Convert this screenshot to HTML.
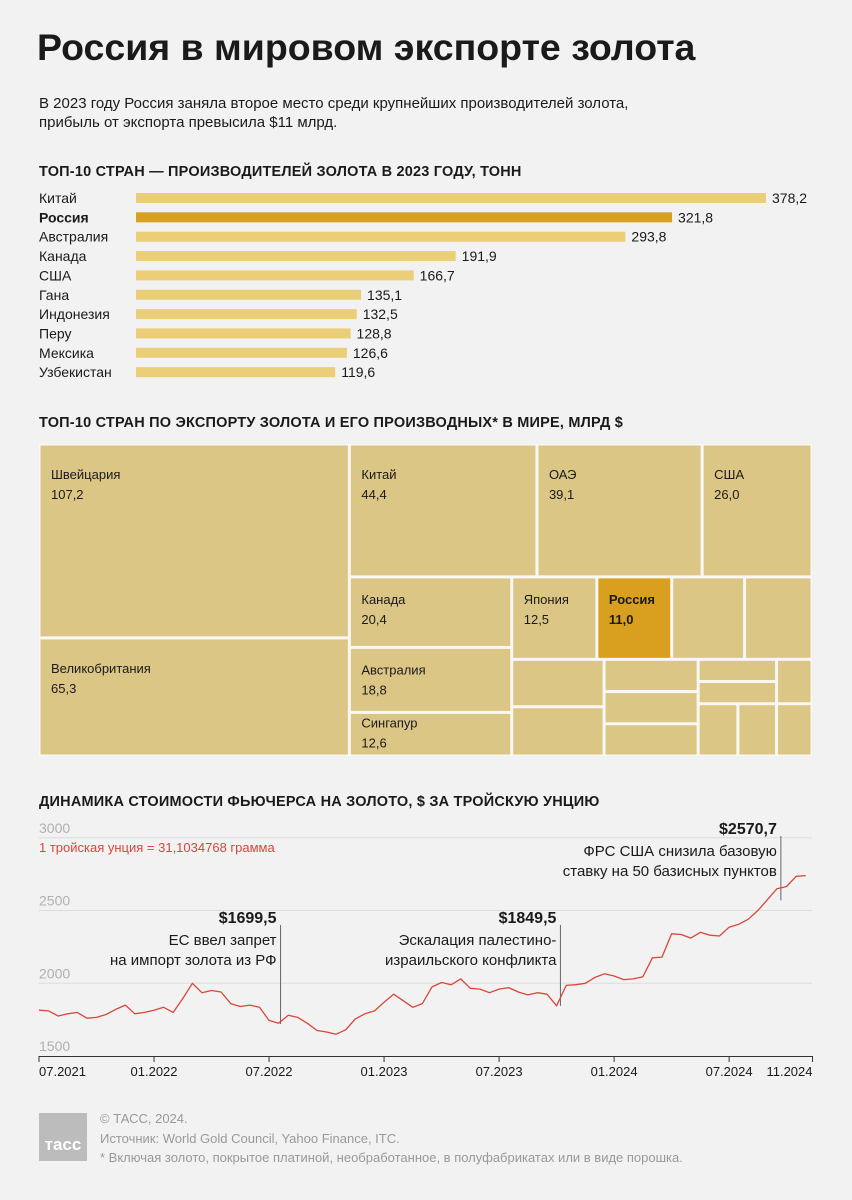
<!DOCTYPE html>
<html><head><meta charset="utf-8">
<style>
html,body{margin:0;padding:0;background:#f2f2f2;}
svg{display:block;font-family:"Liberation Sans","DejaVu Sans",sans-serif;}
</style></head>
<body>
<svg id="root" width="852" height="1200" viewBox="0 0 852 1200">
<rect width="852" height="1200" fill="#f2f2f2"/>
<text x="37" y="60" font-size="37.5" font-weight="bold" fill="#1a1a1a">Россия в мировом экспорте золота</text>
<text x="39" y="108" font-size="15" fill="#1a1a1a">В 2023 году Россия заняла второе место среди крупнейших производителей золота,</text>
<text x="39" y="127" font-size="15" fill="#1a1a1a">прибыль от экспорта превысила $11 млрд.</text>

<text x="39" y="176" font-size="14.5" font-weight="bold" letter-spacing="0.2" fill="#1a1a1a">ТОП-10 СТРАН — ПРОИЗВОДИТЕЛЕЙ ЗОЛОТА В 2023 ГОДУ, ТОНН</text>
<g id="bars"></g>

<text x="39" y="427" font-size="14.5" font-weight="bold" letter-spacing="0.2" fill="#1a1a1a">ТОП-10 СТРАН ПО ЭКСПОРТУ ЗОЛОТА И ЕГО ПРОИЗВОДНЫХ* В МИРЕ, МЛРД $</text>
<g id="treemap"></g>

<text x="39" y="806" font-size="14.5" font-weight="bold" letter-spacing="0.2" fill="#1a1a1a">ДИНАМИКА СТОИМОСТИ ФЬЮЧЕРСА НА ЗОЛОТО, $ ЗА ТРОЙСКУЮ УНЦИЮ</text>
<g id="line"></g>

<rect x="39" y="1113" width="48" height="48" fill="#bcbcbc"/>
<text x="63" y="1150" font-size="17" font-weight="bold" fill="#fff" text-anchor="middle">тасс</text>
<text x="100" y="1123" font-size="13" fill="#999">© ТАСС, 2024.</text>
<text x="100" y="1143" font-size="13" fill="#999">Источник: World Gold Council, Yahoo Finance, ITC.</text>
<text x="100" y="1162" font-size="13" fill="#999">* Включая золото, покрытое платиной, необработанное, в полуфабрикатах или в виде порошка.</text>
</svg>
<script>
const NS='http://www.w3.org/2000/svg';
function mk(tag,attrs,parent,txt){const e=document.createElementNS(NS,tag);for(const k in attrs)e.setAttribute(k,attrs[k]);if(txt!==undefined)e.textContent=txt;parent.appendChild(e);return e;}
function fmt(v){return v.toFixed(1).replace('.',',');}

/* ---------- bar chart ---------- */
const barCountries=['Китай','Россия','Австралия','Канада','США','Гана','Индонезия','Перу','Мексика','Узбекистан'];
const barValues=[378.2,321.8,293.8,191.9,166.7,135.1,132.5,128.8,126.6,119.6];
const barHighlight='Россия';
(function(){
  const g=document.getElementById('bars');
  const x0=136, scale=630/378.2, y0=193, step=19.35;
  const xs=v=>v*scale;
  barCountries.forEach((c,i)=>{
    const y=y0+i*step, hl=c===barHighlight;
    const t=mk('text',{x:39,y:y+10,'font-size':14,fill:'#1a1a1a','font-weight':hl?'bold':'normal'},g,c);
    
    
    const r=mk('rect',{x:x0,y:y,width:xs(barValues[i]),height:10,fill:hl?'#d6a020':'#ebce78'},g);
    
    
    const v=mk('text',{x:x0+xs(barValues[i])+6,y:y+10,'font-size':14,fill:'#1a1a1a'},g,fmt(barValues[i]));
    
    
  });
})();

/* ---------- treemap ---------- */
const tmNames=['Швейцария','Великобритания','Китай','ОАЭ','США','Канада','Австралия','Сингапур','Япония','Россия','','','','','','','','','','','','','',''];
const tmValues=[107.2,65.3,44.4,39.1,26.0,20.4,18.8,12.6,12.5,11.0,10.7,9.9,7.8,8.1,5.4,5.4,5.4,3.1,3.1,2.8,3.7,3.6,3.3];
/* structure: 'h' splits along x, 'v' along y; numbers are indices into tmValues */
const tmTree=['h',['v',0,1],['v',['h',2,3,4],['h',['v',5,6,7],['v',['h',8,9,10,11],['h',['v',12,13],['v',14,15,16],['v',['h',['v',17,18],19],['h',20,21,22]]]]]]];
(function(){
  const g=document.getElementById('treemap');
  const X=39,Y=444,W=773,H=312;
  mk('rect',{x:X,y:Y,width:W,height:H,fill:'#f9f8f4'},g);
  const sum=n=>typeof n==='number'?tmValues[n]:n.slice(1).reduce((a,c)=>a+sum(c),0);
  function lay(n,x,y,w,h){
    if(typeof n==='number'){cell(n,x,y,w,h);return;}
    const tot=sum(n);let off=0;
    n.slice(1).forEach(c=>{const f=sum(c)/tot;
      if(n[0]==='h'){lay(c,x+off,y,w*f,h);off+=w*f;}else{lay(c,x,y+off,w,h*f);off+=h*f;}});
  }
  function cell(i,x,y,w,h){
    const hl=tmNames[i]==='Россия';
    const r=mk('rect',{x:x+1.5,y:y+1.5,width:Math.max(0,w-3),height:Math.max(0,h-3),fill:hl?'#d9a020':'#dcc686'},g);
    
    
    if(tmNames[i]){
      const o=h<55?15:(h<90?27:35);
      const a=mk('text',{x:x+12,y:y+o,'font-size':13,fill:'#1a1a1a','font-weight':hl?'bold':'normal'},g,tmNames[i]);
      
      
      const b=mk('text',{x:x+12,y:y+o+20,'font-size':13,fill:'#1a1a1a','font-weight':hl?'bold':'normal'},g,fmt(tmValues[i]));
      
      
    }
  }
  lay(tmTree,X,Y,W,H);
})();

/* ---------- line chart ---------- */
const prices=[1815,1810,1775,1790,1800,1760,1765,1785,1820,1850,1790,1800,
1815,1835,1800,1895,2000,1935,1950,1940,1860,1840,1850,1835,1745,1725,1780,1765,1725,1675,1665,1650,1680,1755,1790,1810,
1870,1925,1880,1835,1860,1975,2005,1990,2030,1965,1960,1935,1960,1970,1940,1920,1935,1925,1845,1985,1990,2000,2040,2065,
2050,2025,2030,2045,2175,2180,2340,2335,2310,2350,2330,2325,2385,2405,2440,2500,2575,2650,2665,2735,2740];
const yTicks=[1500,2000,2500,3000];
const xTickLabels=['07.2021','01.2022','07.2022','01.2023','07.2023','01.2024','07.2024','11.2024'];
const xTickMonths=[0,6,12,18,24,30,36,40.35];
const annotations=[
 {month:12.6,value:'$1699,5',lines:['ЕС ввел запрет','на импорт золота из РФ'],top:925,price:1720},
 {month:27.2,value:'$1849,5',lines:['Эскалация палестино-','израильского конфликта'],top:925,price:1845},
 {month:38.7,value:'$2570,7',lines:['ФРС США снизила базовую','ставку на 50 базисных пунктов'],top:836,price:2570}
];
(function(){
  const g=document.getElementById('line');
  const X0=39, PX=19.17, yAt=v=>1056-(v-1500)*(145.5/1000);
  const xAt=m=>X0+m*PX;
  yTicks.forEach(t=>{
    if(t>1500){const l=mk('line',{x1:39,x2:812,y1:yAt(t),y2:yAt(t),stroke:'#dcdcdc','stroke-width':1},g);
      
      }
    const tx=mk('text',{x:39,y:yAt(t)-5,'font-size':14,fill:'#b0b0b0'},g,String(t));
    
    
  });
  const ax=mk('line',{x1:39,x2:812,y1:1056.5,y2:1056.5,stroke:'#333','stroke-width':1},g);
  
  
  xTickLabels.forEach((lb,i)=>{
    const x=xAt(xTickMonths[i]);
    const tk=mk('line',{x1:x,x2:x,y1:1056,y2:1062,stroke:'#333'},g);
    
    
    const anchor=i===0?'start':(i===xTickLabels.length-1?'end':'middle');
    const t=mk('text',{x:x,y:1076,'font-size':13,fill:'#1a1a1a','text-anchor':anchor},g,lb);
    
    
  });
  const note=mk('text',{x:39,y:852,'font-size':13,fill:'#d9463a'},g,'1 тройская унция = 31,1034768 грамма');
  
  
  annotations.forEach(a=>{
    const x=xAt(a.month);
    const l=mk('line',{x1:x,x2:x,y1:a.top,y2:yAt(a.price),stroke:'#666','stroke-width':1},g);
    
    
    const v=mk('text',{x:x-4,y:a.top-2,'font-size':16,'font-weight':'bold',fill:'#1a1a1a','text-anchor':'end'},g,a.value);
    
    
    a.lines.forEach((s,j)=>{
      const t=mk('text',{x:x-4,y:a.top+20+j*20,'font-size':15,fill:'#1a1a1a','text-anchor':'end'},g,s);
      
      
    });
  });
  const d=prices.map((p,i)=>(i?'L':'M')+xAt(i/2).toFixed(1)+','+yAt(p).toFixed(1)).join(' ');
  const path=mk('path',{d:d,fill:'none',stroke:'#d9463a','stroke-width':1.3,'stroke-linejoin':'round'},g);
  
  
})();
</script>
</body></html>
